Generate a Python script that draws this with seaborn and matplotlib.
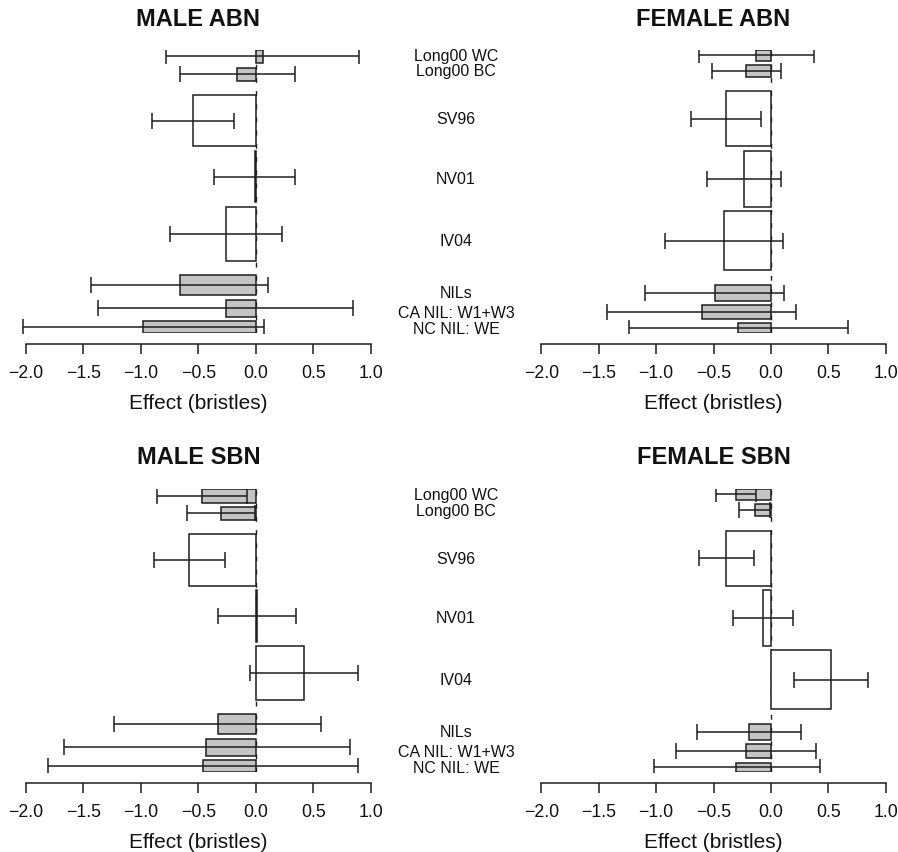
import numpy as np
import matplotlib
matplotlib.use("Agg")
import matplotlib.pyplot as plt
import matplotlib.transforms as mtransforms
import seaborn as sns

# ---------------- data ----------------
studies = ["Long00 WC", "Long00 BC", "SV96", "NV01", "IV04",
           "NILs", "CA NIL: W1+W3", "NC NIL: WE"]
is_gray = [True, True, False, False, False, True, True, True]

# relative bar thickness (weights) per sex
male_weight = [13.3, 12.7, 50.3, 50.7, 52.7, 20.0, 16.7, 11.3]
female_weight = [11.0, 12.0, 55.7, 56.3, 60.0, 16.3, 14.0, 9.3]

male_abn_eff = [0.06, -0.16, -0.55, -0.01, -0.26, -0.66, -0.26, -0.98]
male_abn_lo = [-0.78, -0.66, -0.90, -0.36, -0.75, -1.43, -1.37, -2.03]
male_abn_hi = [0.90, 0.345, -0.19, 0.34, 0.23, 0.11, 0.85, 0.07]

female_abn_eff = [-0.13, -0.215, -0.395, -0.235, -0.41, -0.49, -0.60, -0.285]
female_abn_lo = [-0.63, -0.51, -0.70, -0.555, -0.92, -1.10, -1.43, -1.24]
female_abn_hi = [0.375, 0.085, -0.084, 0.09, 0.107, 0.116, 0.22, 0.67]

male_sbn_eff = [-0.47, -0.30, -0.58, 0.01, 0.42, -0.33, -0.43, -0.46]
male_sbn_lo = [-0.86, -0.60, -0.89, -0.33, -0.05, -1.23, -1.67, -1.81]
male_sbn_hi = [-0.08, -0.01, -0.27, 0.35, 0.89, 0.57, 0.82, 0.89]

female_sbn_eff = [-0.30, -0.14, -0.39, -0.073, 0.525, -0.19, -0.22, -0.30]
female_sbn_lo = [-0.48, -0.275, -0.63, -0.33, 0.20, -0.645, -0.83, -1.02]
female_sbn_hi = [-0.13, -0.01, -0.145, 0.19, 0.85, 0.26, 0.39, 0.43]

panel_titles = ["MALE ABN", "FEMALE ABN", "MALE SBN", "FEMALE SBN"]
x_ticks = [-2.0, -1.5, -1.0, -0.5, 0.0, 0.5, 1.0]
x_label = "Effect (bristles)"
space_frac = [0.0, 0.15, 0.5, 0.15, 0.15, 0.5, 0.15, 0.15]

# ---------------- style ----------------
sns.set_theme(style="ticks")
plt.rcParams["font.family"] = ["Liberation Sans", "DejaVu Sans"]
plt.rcParams["axes.unicode_minus"] = True

W, H = 898, 853
fig = plt.figure(figsize=(W / 100, H / 100), dpi=100, facecolor="white")

GRAY = "#c4c4c4"
EDGE = "#1e1e1e"
XLIM = (-2.1, 1.1)


def stack_positions(weights):
    w = np.asarray(weights, float)
    gaps = np.asarray(space_frac) * w.mean()
    centers, cum = [], 0.0
    for wi, gi in zip(w, gaps):
        start = cum + gi
        centers.append(start + wi / 2)
        cum = start + wi
    return np.array(centers), w, cum


def place(ax, x_m2, x_p1, y_top, y_bot):
    per = (x_p1 - x_m2) / 3.0
    left = x_m2 + (XLIM[0] + 2) * per
    right = x_p1 + (XLIM[1] - 1) * per
    ax.set_position([left / W, 1 - y_bot / H, (right - left) / W, (y_bot - y_top) / H])


def draw(ax, eff, lo, hi, weights, title, tx, ty):
    centers, w, total = stack_positions(weights)
    eff = np.asarray(eff)
    lo = np.asarray(lo)
    hi = np.asarray(hi)
    ax.axvline(0, color=EDGE, lw=1.0, ls=(0, (3.5, 6)), zorder=0)
    colors = [GRAY if g else "white" for g in is_gray]
    ax.barh(centers, eff, height=w, left=0, color=colors,
            edgecolor=EDGE, linewidth=1.1, zorder=2)
    mid = (lo + hi) / 2
    ax.errorbar(mid, centers, xerr=[mid - lo, hi - mid], fmt="none",
                ecolor=EDGE, elinewidth=1.1, capsize=6, capthick=1.1, zorder=3)
    ax.set_xlim(*XLIM)
    ax.set_ylim(total, 0)
    ax.set_yticks([])
    for s in ["top", "right", "left"]:
        ax.spines[s].set_visible(False)
    ax.spines["bottom"].set_bounds(-2, 1)
    ax.spines["bottom"].set_position(("outward", 8.1))
    ax.spines["bottom"].set_linewidth(1.1)
    ax.spines["bottom"].set_color(EDGE)
    ax.set_xticks(x_ticks)
    ax.set_xticklabels([f"{t:.1f}".replace("-", "\u2212") for t in x_ticks])
    ax.tick_params(axis="x", direction="out", length=7.2, width=1.1,
                   color=EDGE, labelsize=12.8, pad=7.3, labelcolor="#111111")
    ax.set_xlabel(x_label, fontsize=15, labelpad=8.4, color="#111111")
    ax.set_facecolor("white")
    ax.patch.set_alpha(0)
    fig.text(tx / W, 1 - ty / H, title, ha="center", va="center",
             fontsize=17, fontweight="bold", color="#111111")
    return centers


axes = [fig.add_axes([0, 0, 1, 1]) for _ in range(4)]
# top-left, top-right, bottom-left, bottom-right
place(axes[0], 26, 370.7, 50.7, 333.7)
place(axes[1], 541.3, 885.7, 50.7, 333.7)
place(axes[2], 26, 370.7, 490, 772.7)
place(axes[3], 541.3, 885.7, 490, 772.7)

draw(axes[0], male_abn_eff, male_abn_lo, male_abn_hi, male_weight, panel_titles[0], 198.5, 19)
cf = draw(axes[1], female_abn_eff, female_abn_lo, female_abn_hi, female_weight, panel_titles[1], 713.5, 19)
draw(axes[2], male_sbn_eff, male_sbn_lo, male_sbn_hi, male_weight, panel_titles[2], 198.5, 457.5)
cf2 = draw(axes[3], female_sbn_eff, female_sbn_lo, female_sbn_hi, female_weight, panel_titles[3], 713.5, 457.5)

for ax, cents in [(axes[1], cf), (axes[3], cf2)]:
    tr = mtransforms.blended_transform_factory(fig.transFigure, ax.transData)
    for lab, c in zip(studies, cents):
        fig.text(456 / W, c, lab, transform=tr, ha="center", va="center",
                 fontsize=11.5, color="#111111")

fig.savefig("out.png", dpi=100, facecolor="white")
